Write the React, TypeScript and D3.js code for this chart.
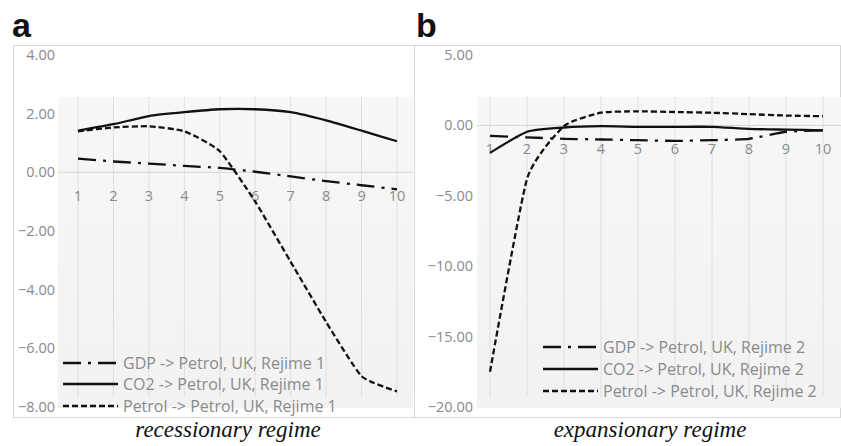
import React, { useEffect, useRef } from "react";
import * as d3 from "d3";

// horizon steps on the x axis
const steps = [1, 2, 3, 4, 5, 6, 7, 8, 9, 10];

// panel a: recessionary regime (Rejime 1)
const gdpA = [0.47, 0.37, 0.3, 0.22, 0.15, 0.02, -0.14, -0.3, -0.44, -0.58];
const co2A = [1.42, 1.64, 1.92, 2.05, 2.15, 2.15, 2.05, 1.77, 1.42, 1.06];
const petrolA = [1.4, 1.53, 1.57, 1.4, 0.72, -1.0, -3.05, -5.1, -6.95, -7.47];
const ticksA = [4, 2, 0, -2, -4, -6, -8];

// panel b: expansionary regime (Rejime 2)
const gdpB = [-0.75, -0.85, -0.95, -1.0, -1.05, -1.1, -1.05, -0.95, -0.45, -0.35];
const co2B = [-1.95, -0.45, -0.15, -0.05, -0.1, -0.1, -0.1, -0.25, -0.3, -0.35];
const petrolB = [-17.5, -3.8, -0.05, 0.9, 1.0, 0.95, 0.9, 0.8, 0.7, 0.65];
const ticksB = [5, 0, -5, -10, -15, -20];

const seriesNames = ["GDP", "CO2", "Petrol"];
const dashes = ["18,7,3,7", null, "6,3"];

const textFont = "'Open Sans', 'Noto Sans', sans-serif";
const grey = "#8a8a8a";

const App = () => {
  const svgRef = useRef(null);

  useEffect(() => {
    const svg = d3.select(svgRef.current);
    svg.selectAll("*").remove();

    // outer frame
    const frame = svg.append("g").attr("stroke", "#d6d6d6").attr("fill", "none");
    frame.append("rect").attr("x", 13.5).attr("y", 45.5).attr("width", 827).attr("height", 372);
    frame.append("line").attr("x1", 414.5).attr("x2", 414.5).attr("y1", 45).attr("y2", 418);

    const panels = [
      {
        label: "a", labelX: 12, caption: "recessionary regime", captionX: 228,
        domain: [-8, 4], ticks: ticksA, xRange: [78, 397], plot: [58, 97, 413, 408], tickRight: 55,
        series: [gdpA, co2A, petrolA], regime: 1, legendX: 63, legendY: [363, 384, 406], xLabelDy: 29,
      },
      {
        label: "b", labelX: 416, caption: "expansionary regime", captionX: 650,
        domain: [-20, 5], ticks: ticksB, xRange: [490, 823], plot: [477, 97, 841, 408], tickRight: 473,
        series: [gdpB, co2B, petrolB], regime: 2, legendX: 543, legendY: [347, 369, 391], xLabelDy: 29,
      },
    ];

    panels.forEach((p) => {
      const g = svg.append("g");
      const x = d3.scaleLinear().domain([1, 10]).range(p.xRange);
      const y = d3.scaleLinear().domain(p.domain).range([407, 55]);

      // plot area background
      const gradId = "bg" + p.label;
      const grad = svg.append("defs").append("linearGradient")
        .attr("id", gradId).attr("x1", 0).attr("x2", 0).attr("y1", 0).attr("y2", 1);
      grad.append("stop").attr("offset", "0%").attr("stop-color", "#f7f7f7");
      grad.append("stop").attr("offset", "100%").attr("stop-color", "#f2f2f2");
      g.append("rect")
        .attr("x", p.plot[0]).attr("y", p.plot[1])
        .attr("width", p.plot[2] - p.plot[0]).attr("height", p.plot[3] - p.plot[1])
        .attr("fill", `url(#${gradId})`);

      // vertical gridlines
      g.selectAll(".vgrid").data(steps).join("line")
        .attr("x1", (d) => x(d)).attr("x2", (d) => x(d))
        .attr("y1", p.plot[1]).attr("y2", 397)
        .attr("stroke", "#dedede").attr("stroke-width", 1);

      // zero line
      g.append("line")
        .attr("x1", p.plot[0]).attr("x2", p.plot[2])
        .attr("y1", y(0)).attr("y2", y(0))
        .attr("stroke", "#d4d4d4").attr("stroke-width", 1);

      // y tick labels
      g.selectAll(".ytick").data(p.ticks).join("text")
        .attr("x", p.tickRight).attr("y", (d) => y(d)).attr("dy", "0.35em")
        .attr("text-anchor", "end")
        .attr("font-family", textFont).attr("font-size", 14.5).attr("fill", grey)
        .text((d) => d3.format(".2f")(d));

      // x tick labels just under the zero line
      g.selectAll(".xtick").data(steps).join("text")
        .attr("x", (d) => x(d)).attr("y", y(0) + p.xLabelDy)
        .attr("text-anchor", "middle")
        .attr("font-family", textFont).attr("font-size", 14.5).attr("fill", grey)
        .text((d) => d);

      // series lines
      const line = d3.line()
        .x((d, i) => x(steps[i]))
        .y((d) => y(d))
        .curve(d3.curveCardinal.tension(0.5));

      p.series.forEach((vals, k) => {
        g.append("path")
          .attr("d", line(vals))
          .attr("fill", "none")
          .attr("stroke", "#111")
          .attr("stroke-width", 2.3)
          .attr("stroke-dasharray", dashes[k]);
      });

      // legend
      seriesNames.forEach((name, k) => {
        const ly = p.legendY[k];
        g.append("line")
          .attr("x1", p.legendX).attr("x2", p.legendX + 55)
          .attr("y1", ly).attr("y2", ly)
          .attr("stroke", "#111").attr("stroke-width", 2.3)
          .attr("stroke-dasharray", dashes[k]);
        g.append("text")
          .attr("x", p.legendX + 60).attr("y", ly).attr("dy", "0.35em")
          .attr("font-family", textFont).attr("font-size", 16).attr("fill", grey)
          .text(`${name} -> Petrol, UK, Rejime ${p.regime}`);
      });

      // panel letter
      svg.append("text")
        .attr("x", p.labelX).attr("y", 37)
        .attr("font-family", "'Liberation Sans', Arial, sans-serif")
        .attr("font-weight", "bold").attr("font-size", 34).attr("fill", "#111")
        .text(p.label);

      // caption
      svg.append("text")
        .attr("x", p.captionX).attr("y", 437)
        .attr("text-anchor", "middle")
        .attr("font-family", "'Liberation Serif', 'Times New Roman', serif")
        .attr("font-style", "italic").attr("font-size", 23).attr("fill", "#111")
        .text(p.caption);
    });
  }, []);

  return (
    <svg
      ref={svgRef}
      width={841}
      height={446}
      style={{ position: "absolute", left: 0, top: 0, background: "#fff" }}
    />
  );
};

export default App;
